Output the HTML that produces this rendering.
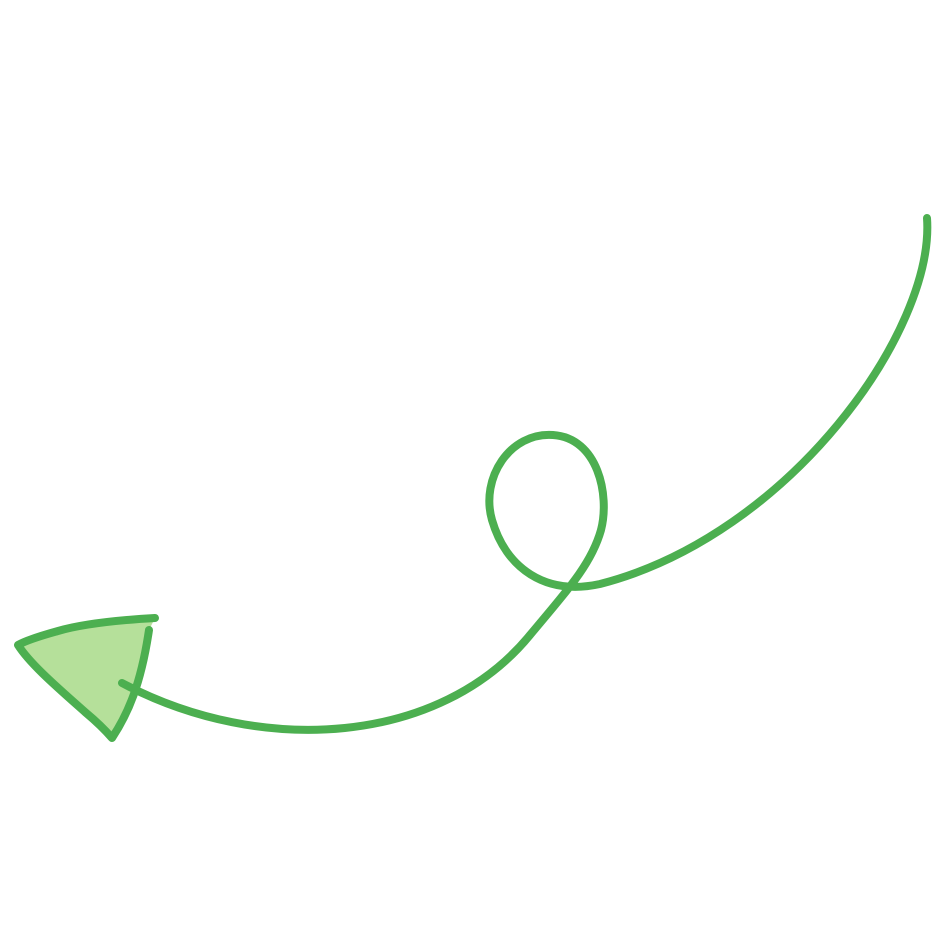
<!DOCTYPE html>
<html>
<head>
<meta charset="utf-8">
<style>
html,body{margin:0;padding:0;background:#fff;}
svg{display:block;}
</style>
</head>
<body>
<svg width="938" height="926" viewBox="0 0 938 926">
  <path
        d="M155,618 C120,620 82,624 58,631 C40,636 25,641 18,645 C30,664 58,688 85,712 C97,722 106,731 112,738 C128,714 141,684 149,630"
        fill="#b5e09a" stroke="#4caf50" stroke-width="8" stroke-linecap="round" stroke-linejoin="round"/>
  <path
        d="M927,218 C935,330 790,535 600,584 C545,596 506,568 492,520 C480,478 510,432 553,435 C598,438 610,495 601,530 C592,562 572,585 530,635 C440,745 262,757 122,683"
        fill="none" stroke="#4caf50" stroke-width="8" stroke-linecap="round" stroke-linejoin="round"/>
</svg>
</body>
</html>
